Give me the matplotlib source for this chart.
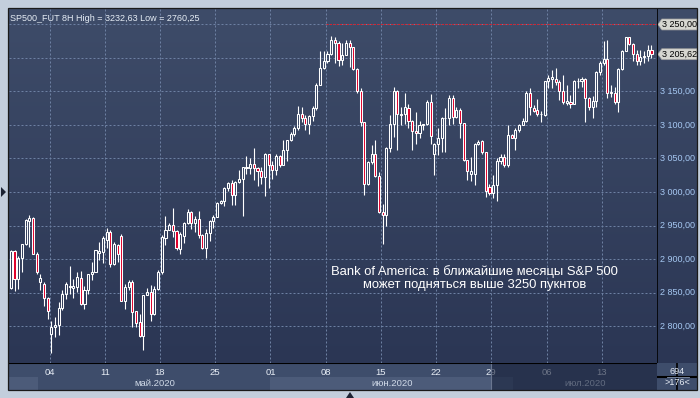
import numpy as np
import matplotlib.pyplot as plt
from matplotlib.colors import LinearSegmentedColormap
from matplotlib.patches import Rectangle, Polygon

# 8H candles SP500_FUT, end of April .. mid July 2020
opens = [2857, 2912, 2870, 2901, 2922, 2956, 2961, 2908, 2866, 2863,
         2842, 2788, 2798, 2801, 2827, 2848, 2858, 2857, 2858, 2872,
         2833, 2853, 2877, 2881, 2909, 2911, 2928, 2941, 2893, 2921,
         2934, 2838, 2858, 2865, 2822, 2806, 2785, 2847, 2851, 2818,
         2855, 2880, 2931, 2944, 2951, 2942, 2915, 2935, 2953, 2970,
         2954, 2960, 2936, 2916, 2939, 2956, 2963, 2984, 2987, 3006,
         3014, 2995, 3015, 3019, 3036, 3036, 3042, 3036, 3031, 3022,
         3056, 3041, 3033, 3053, 3041, 3063, 3077, 3087, 3095, 3117,
         3111, 3101, 3113, 3126, 3160, 3185, 3195, 3206, 3227, 3222,
         3197, 3205, 3222, 3216, 3183, 3151, 3104, 3012, 3045, 3057,
         3024, 2970, 2966, 3066, 3102, 3150, 3115, 3116, 3126, 3106,
         3091, 3088, 3100, 3101, 3135, 3056, 3072, 3080, 3110, 3110,
         3141, 3112, 3123, 3103, 3048, 3027, 3027, 3072, 3076, 3059,
         3008, 2998, 3010, 3046, 3052, 3040, 3085, 3081, 3093, 3100,
         3106, 3147, 3125, 3122, 3116, 3115, 3165, 3168, 3168, 3164,
         3151, 3133, 3135, 3132, 3165, 3165, 3169, 3141, 3127, 3136,
         3179, 3192, 3199, 3148, 3148, 3135, 3183, 3211, 3231, 3221,
         3206, 3196, 3202, 3203, 3212]
highs = [2914, 2914, 2904, 2923, 2959, 2966, 2963, 2911, 2877, 2866,
         2843, 2808, 2814, 2836, 2853, 2866, 2889, 2870, 2881, 2882,
         2860, 2878, 2896, 2914, 2926, 2934, 2947, 2943, 2926, 2923,
         2938, 2863, 2869, 2869, 2823, 2818, 2847, 2857, 2861, 2859,
         2884, 2936, 2964, 2953, 2976, 2943, 2940, 2955, 2975, 2972,
         2964, 2972, 2937, 2945, 2958, 2966, 2985, 2988, 3007, 3015,
         3018, 3017, 3033, 3038, 3053, 3051, 3065, 3037, 3037, 3058,
         3057, 3047, 3057, 3055, 3077, 3078, 3090, 3098, 3128, 3127,
         3115, 3115, 3128, 3162, 3211, 3210, 3210, 3232.63, 3231, 3225,
         3222, 3227, 3227, 3217, 3185, 3155, 3105, 3046, 3070, 3077,
         3030, 2982, 3067, 3115, 3156, 3152, 3127, 3148, 3132, 3108,
         3119, 3106, 3102, 3137, 3146, 3073, 3095, 3112, 3125, 3145,
         3145, 3127, 3125, 3103, 3048, 3052, 3073, 3078, 3077, 3060,
         3012, 3026, 3051, 3057, 3056, 3100, 3086, 3095, 3101, 3111,
         3150, 3155, 3130, 3139, 3121, 3166, 3175, 3182, 3185, 3167,
         3175, 3160, 3145, 3167, 3170, 3172, 3170, 3142, 3144, 3180,
         3195, 3226, 3227, 3160, 3157, 3185, 3212, 3231, 3232, 3222,
         3212, 3212, 3210, 3219, 3220]
lows = [2855, 2852, 2855, 2880, 2921, 2918, 2907, 2877, 2853, 2830,
        2810, 2760.25, 2784, 2786, 2824, 2840, 2848, 2842, 2851, 2832,
        2825, 2848, 2868, 2880, 2898, 2894, 2916, 2888, 2891, 2896,
        2837, 2826, 2853, 2798, 2798, 2783, 2764, 2846, 2808, 2816,
        2853, 2878, 2921, 2943, 2933, 2914, 2908, 2924, 2952, 2945,
        2940, 2932, 2915, 2902, 2927, 2947, 2962, 2982, 2979, 3002,
        2981, 2981, 3013, 2964, 3027, 3027, 3018, 3009, 3012, 2994,
        3006, 3020, 3026, 3038, 3041, 3047, 3076, 3084, 3093, 3105,
        3092, 3087, 3106, 3123, 3160, 3183, 3192, 3205, 3192, 3188,
        3190, 3204, 3187, 3182, 3147, 3098, 2995, 3011, 3042, 3022,
        2968, 2922, 2950, 3060, 3082, 3062, 3100, 3101, 3095, 3062,
        3072, 3080, 3092, 3100, 3071, 3025, 3055, 3060, 3060, 3100,
        3102, 3110, 3080, 3047, 3018, 3017, 3010, 3070, 3057, 2992,
        2995, 2991, 2987, 3042, 3037, 3038, 3080, 3062, 3090, 3100,
        3105, 3115, 3119, 3114, 3105, 3114, 3155, 3155, 3160, 3137,
        3132, 3130, 3125, 3131, 3155, 3157, 3105, 3122, 3111, 3127,
        3175, 3190, 3140, 3142, 3132, 3119, 3182, 3210, 3220, 3195,
        3190, 3190, 3192, 3195, 3200]
closes = [2912, 2870, 2901, 2922, 2958, 2961, 2908, 2881, 2871, 2842,
          2823, 2798, 2801, 2827, 2848, 2862, 2860, 2859, 2873, 2833,
          2853, 2877, 2881, 2913, 2912, 2931, 2941, 2893, 2923, 2908,
          2838, 2858, 2865, 2821, 2804, 2785, 2847, 2851, 2818, 2855,
          2880, 2933, 2944, 2951, 2942, 2916, 2938, 2953, 2970, 2954,
          2960, 2936, 2916, 2939, 2956, 2963, 2984, 2987, 3006, 3014,
          2995, 3015, 3019, 3037, 3037, 3042, 3036, 3031, 3022, 3056,
          3041, 3033, 3053, 3041, 3063, 3077, 3087, 3095, 3117, 3111,
          3101, 3113, 3126, 3160, 3185, 3195, 3206, 3227, 3222, 3197,
          3205, 3222, 3216, 3183, 3151, 3104, 3012, 3045, 3057, 3024,
          2970, 2966, 3066, 3102, 3150, 3116, 3117, 3127, 3106, 3091,
          3088, 3100, 3101, 3135, 3084, 3072, 3080, 3110, 3111, 3141,
          3112, 3123, 3103, 3048, 3031, 3032, 3072, 3075, 3059, 3001,
          2998, 3010, 3046, 3052, 3040, 3085, 3081, 3093, 3100, 3106,
          3147, 3127, 3121, 3116, 3117, 3165, 3170, 3171, 3164, 3151,
          3135, 3136, 3132, 3166, 3166, 3169, 3141, 3127, 3136, 3179,
          3192, 3199, 3148, 3149, 3135, 3183, 3211, 3231, 3221, 3206,
          3196, 3202, 3203, 3212, 3205.62]

week_labels = ['04', '11', '18', '25', '01', '08', '15', '22', '29', '06', '13']
week_first_bar = [11, 26, 41, 56, 71, 86, 101, 116, 131, 146, 161]
month_labels = ['май.2020', 'июн.2020', 'июл.2020']
month_first_bar = [8, 71, 137]
grid_prices = [2800, 2850, 2900, 2950, 3000, 3050, 3100, 3150, 3200, 3250]
label_prices = [2800, 2850, 2900, 2950, 3000, 3050, 3100, 3150]
level_price = 3250.0
level_from_bar = 86
last_price = closes[-1]
n_slots = 176
visible_bars = 176
total_bars = 694

title = 'SP500_FUT 8H High = 3232,63 Low = 2760,25'
note = 'Bank of America: в ближайшие месяцы S&P 500\nможет подняться выше 3250 пукнтов'

W, H = 700, 398
plt.rcParams['font.family'] = ['Liberation Sans', 'DejaVu Sans']


def fmt(v):
    return f'{v:,.2f}'.replace(',', ' ').replace('.', ',')


def box(l, b, w, h):
    return [l / W, b / H, w / W, h / H]


def gradient(ax, top, bottom):
    cmap = LinearSegmentedColormap.from_list('bg', [top, bottom])
    g = np.linspace(0, 1, 256)[:, None]
    ax.imshow(g, cmap=cmap, aspect='auto', extent=[0, 1, 0, 1],
              transform=ax.transAxes, zorder=0, interpolation='bilinear')


fig = plt.figure(figsize=(W / 100, H / 100), dpi=100)
fig.patch.set_facecolor('#c3cedc')

x = np.arange(len(closes))
o = np.array(opens, float)
c = np.array(closes, float)
hi = np.array(highs, float)
lo = np.array(lows, float)
top = np.maximum(o, c)
bot = np.minimum(o, c)
up = c >= o

xlim = (-0.5, n_slots - 0.5)
ylim = (2744.8, 3273.1)
grid_kw = dict(color='#6d80a2', lw=0.72, ls=(0, (2, 2)))

# main price panel
ax = fig.add_axes(box(9, 35, 648, 354))
gradient(ax, '#3e4c69', '#2b3654')
ax.set_xlim(*xlim)
ax.set_ylim(*ylim)
ax.set_xticks([b - 0.5 for b in week_first_bar])
ax.set_yticks(grid_prices)
ax.tick_params(length=0, labelbottom=False, labelleft=False)
ax.grid(True, **grid_kw)
ax.set_axisbelow(True)
for s in ax.spines.values():
    s.set_visible(False)

ax.vlines(x, top, hi, color='white', lw=0.8, zorder=3)
ax.vlines(x, lo, bot, color='white', lw=0.8, zorder=3)
ax.bar(x[up], (top - bot)[up], bottom=bot[up], width=0.58,
       facecolor='none', edgecolor='white', lw=0.75, zorder=4)
ax.bar(x[~up], (top - bot)[~up], bottom=bot[~up], width=0.58,
       facecolor='#e0002a', edgecolor='white', lw=0.75, zorder=4)

ax.hlines(level_price, level_from_bar - 0.5, xlim[1], color='#d8202c',
          lw=0.72, ls=(0, (2, 1.4)), zorder=2)

ax.text(0.002, 0.985, title, transform=ax.transAxes, ha='left', va='top',
        fontsize=6.5, color='#e6edf5', zorder=6)
ax.text(0.719, 0.24, note, transform=ax.transAxes, ha='center', va='center',
        fontsize=9.4, color='white', linespacing=1.15, zorder=6)

# right price scale
ax_r = fig.add_axes(box(657, 35, 40, 354))
gradient(ax_r, '#3e4c69', '#2b3654')
ax_r.set_xlim(0, 1)
ax_r.set_ylim(*ylim)
ax_r.set_xticks([])
ax_r.set_yticks([])
for s in ax_r.spines.values():
    s.set_visible(False)
ax_r.axvline(0, color='black', lw=1.2, zorder=5)
for p in label_prices:
    ax_r.text(0.08, p, fmt(p), fontsize=6.5, color='#a6c8f2',
              va='center', ha='left', zorder=3)
tag_h = 8.2
for p in [level_price, last_price]:
    poly = Polygon([(0.02, p), (0.12, p + tag_h), (1.0, p + tag_h),
                    (1.0, p - tag_h), (0.12, p - tag_h)], closed=True,
                   facecolor='#d6d6d0', edgecolor='#9a9a9a', lw=0.5, zorder=4)
    ax_r.add_patch(poly)
    ax_r.text(0.12, p, fmt(p), fontsize=6.5, color='black', va='center',
              ha='left', zorder=5)

# time scale
ax_b = fig.add_axes(box(9, 8, 648, 27))
ax_b.set_facecolor('#3e4d6b')
ax_b.set_xlim(*xlim)
ax_b.set_ylim(0, 1)
ax_b.set_xticks([])
ax_b.set_yticks([])
for s in ax_b.spines.values():
    s.set_visible(False)
ax_b.axhline(1, color='black', lw=1.5, zorder=5)
band_h = 13 / 27
edges = [xlim[0]] + [m - 0.5 for m in month_first_bar] + [xlim[1]]
for k in range(len(edges) - 1):
    if k % 2 == 0:
        ax_b.add_patch(Rectangle((edges[k], 0), edges[k + 1] - edges[k], band_h,
                                 facecolor='#4c5b79', lw=0, zorder=1))
for lab, b in zip(week_labels, week_first_bar):
    ax_b.text(b - 0.5, 0.66, lab, fontsize=6.8, color='#e8eef6',
              ha='center', va='center', zorder=3)
for k, lab in enumerate(month_labels):
    ax_b.text((edges[k + 1] + edges[k + 2]) / 2, 0.25, lab, fontsize=6.8,
              color='#d0dae8', ha='center', va='center', zorder=3)
# darkened scroll area at the right of the time scale
sel = week_first_bar[8] - 0.5
ax_b.add_patch(Rectangle((sel, 0), xlim[1] - sel, 1, facecolor='#18213a',
                         alpha=0.6, lw=0, zorder=4))
ax_b.axvline(sel, color='#6a7690', lw=0.8, zorder=4)

# corner box
ax_c = fig.add_axes(box(657, 8, 40, 27))
ax_c.set_facecolor('#3e4d6b')
ax_c.set_xticks([])
ax_c.set_yticks([])
for s in ax_c.spines.values():
    s.set_visible(False)
ax_c.axvline(0, color='black', lw=1.2)
ax_c.axhline(1, color='black', lw=1.5)
ax_c.text(0.5, 0.7, str(total_bars), fontsize=6.5, color='#e8eef6',
          ha='center', va='center', transform=ax_c.transAxes)
ax_c.plot([0.25, 0.8], [0.5, 0.5], color='#8a9ab4', lw=0.6,
          transform=ax_c.transAxes)
ax_c.text(0.5, 0.27, f'>{visible_bars}<', fontsize=6.5, color='#e8eef6',
          ha='center', va='center', transform=ax_c.transAxes)

# outer frame and small markers
fig.patches.append(Rectangle((8 / W, 8 / H), 689 / W, 382 / H, fill=False,
                             edgecolor='#1a1a1a', lw=0.9,
                             transform=fig.transFigure, figure=fig))
fig.patches.append(Polygon([(1 / W, 1 - 187 / H), (6 / W, 1 - 192 / H),
                            (1 / W, 1 - 197 / H)], closed=True,
                           facecolor='#1c2333', transform=fig.transFigure,
                           figure=fig))
fig.patches.append(Polygon([(346 / W, 1 - 398 / H), (350 / W, 1 - 392 / H),
                            (354 / W, 1 - 398 / H)], closed=True,
                           facecolor='#1c2333', transform=fig.transFigure,
                           figure=fig))

fig.savefig('out.png', dpi=100)
